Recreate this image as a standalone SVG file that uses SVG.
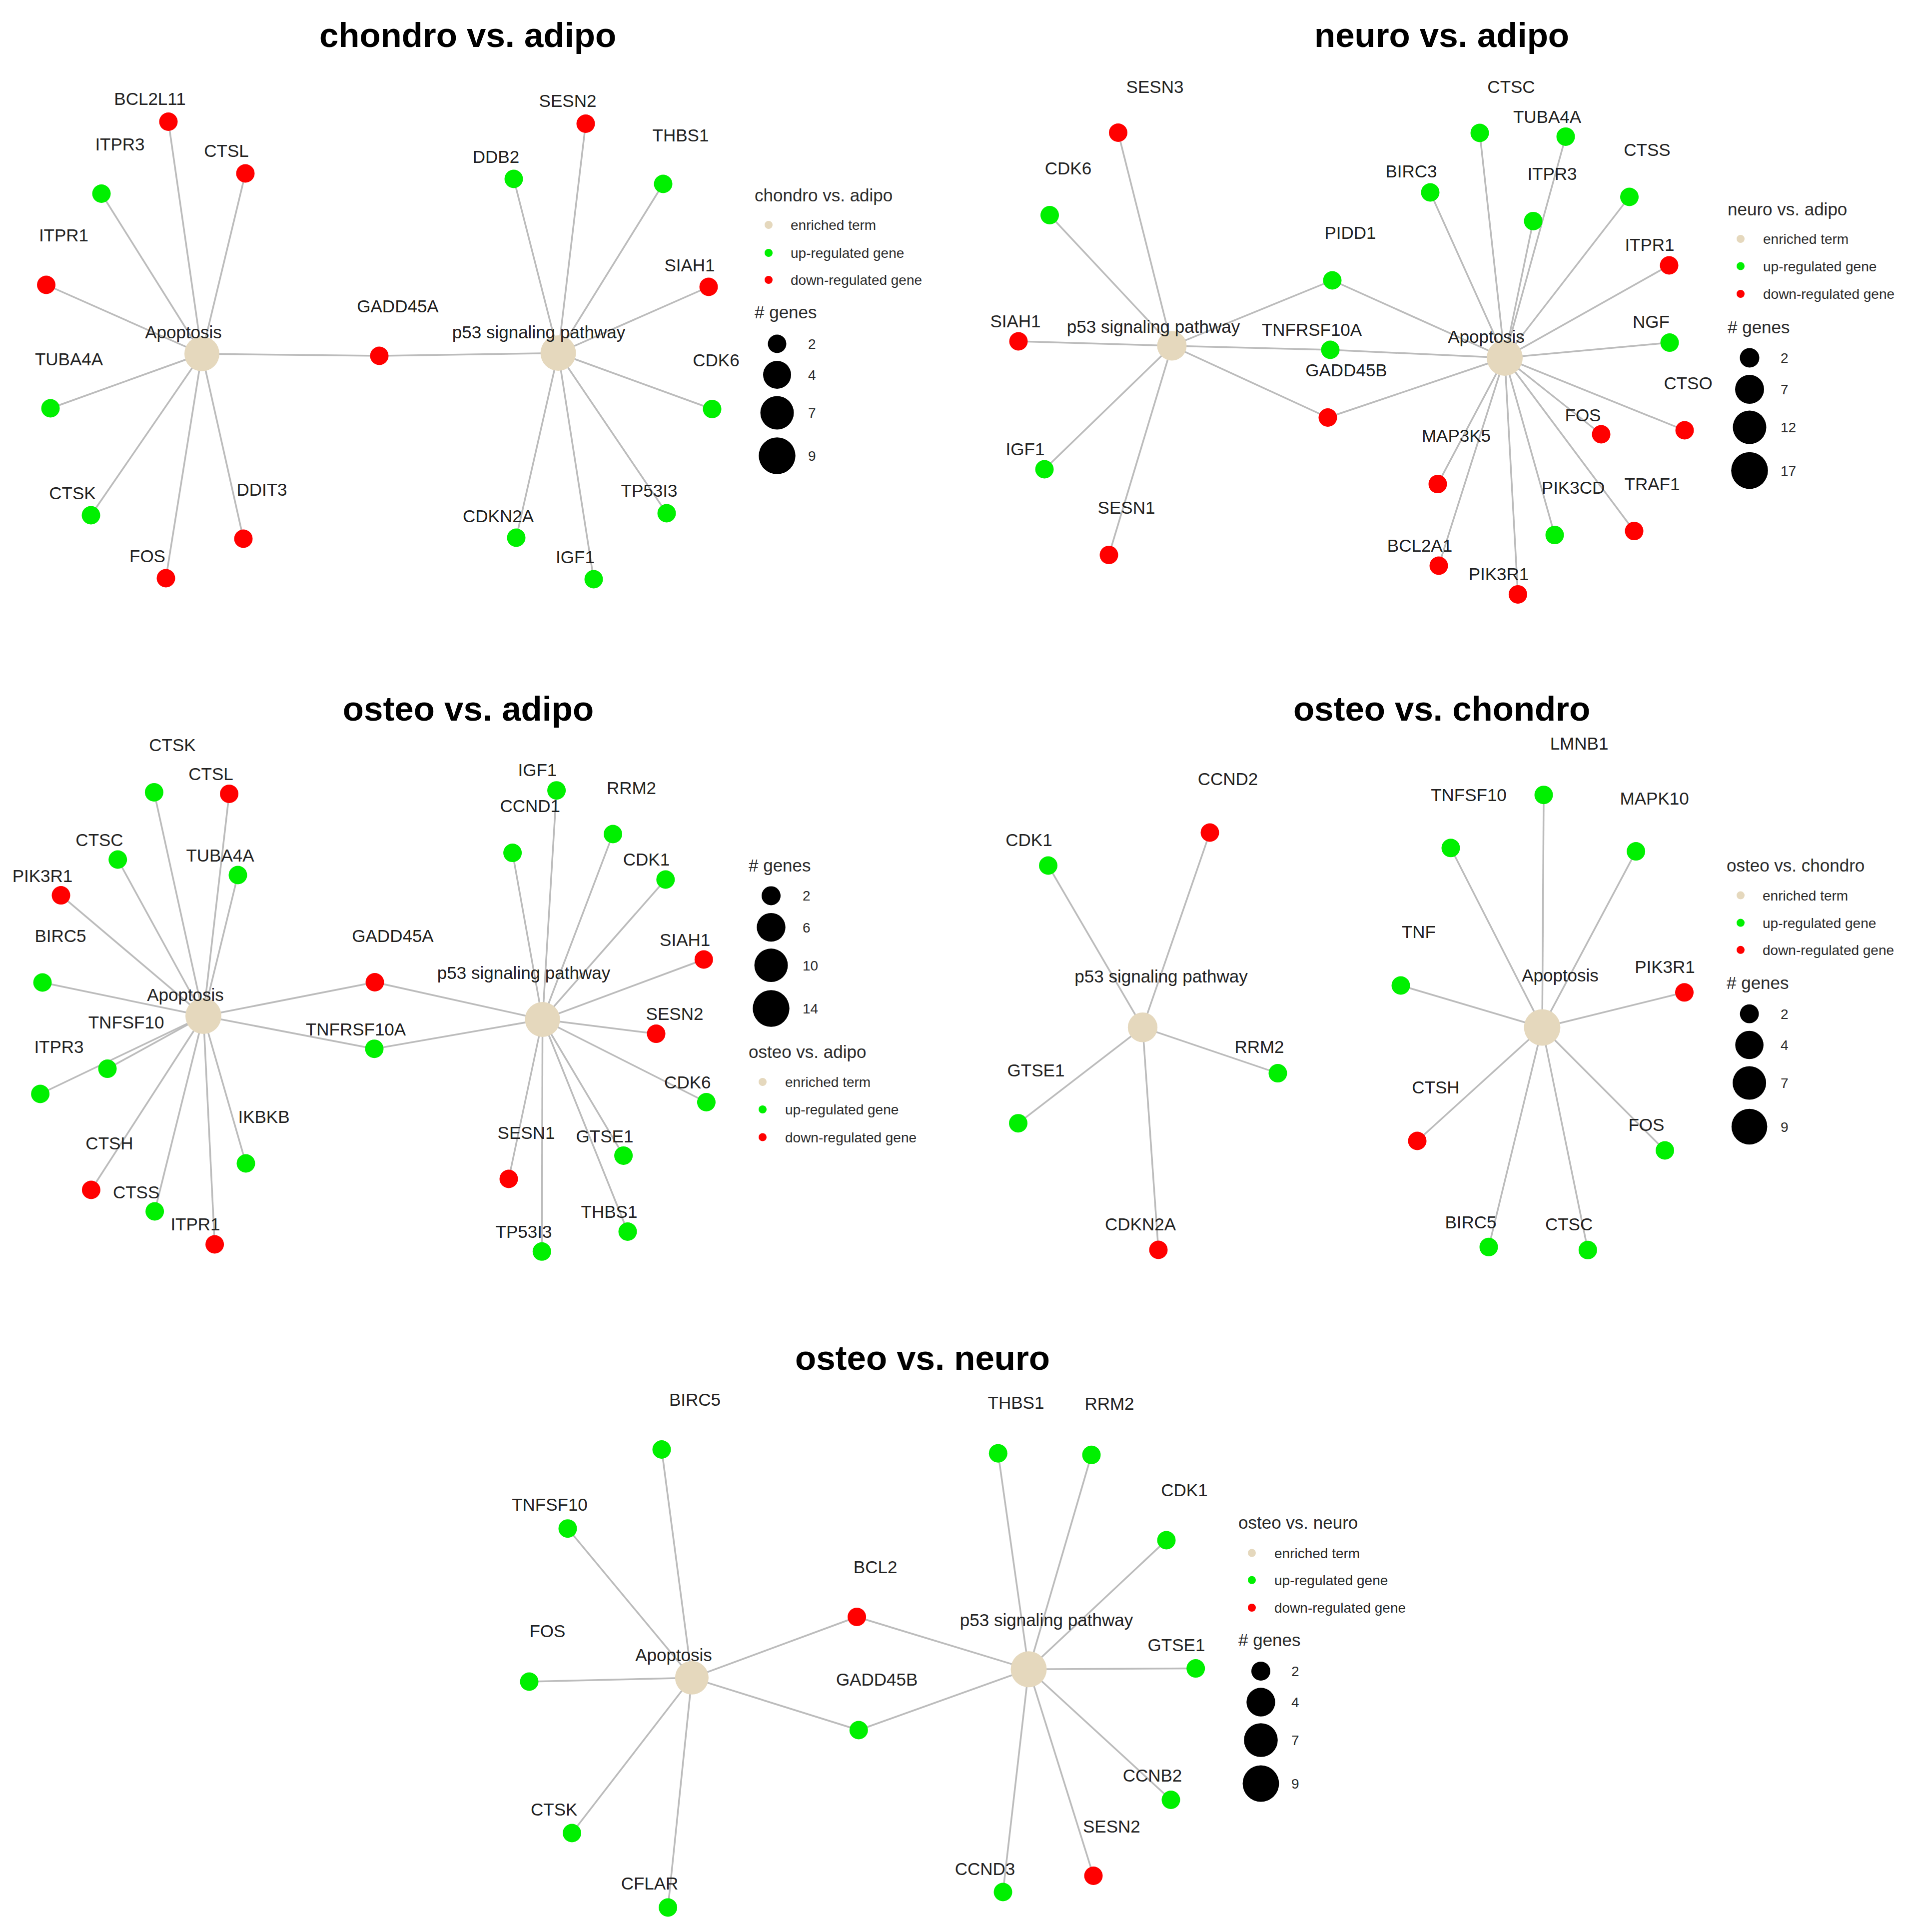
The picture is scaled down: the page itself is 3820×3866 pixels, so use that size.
<svg xmlns="http://www.w3.org/2000/svg" width="3820" height="3866" viewBox="0 0 3820 3866">
<style>
.bg{fill:#fff}
.e{stroke:#bcbcbc;stroke-width:3.5;fill:none}
.up{fill:#00f000}
.dn{fill:#ff0000}
.hub{fill:#e5d8bd}
.sz{fill:#000}
text{font-family:"Liberation Sans",Arial,sans-serif}
.lbl{font-size:35px;fill:#222;text-anchor:middle}
.ttl{font-size:69px;font-weight:bold;fill:#000;text-anchor:middle}
.lgt{font-size:35px;fill:#2a2a2a}
.lgi{font-size:28px;fill:#2a2a2a}
</style>
<rect class="bg" x="0" y="0" width="3820" height="3866"/>

<!-- ================= Panel 1: chondro vs. adipo ================= -->
<g id="panel1">
<text class="ttl" x="936" y="94">chondro vs. adipo</text>
<g id="p1-edges">
<line class="e" x1="404" y1="708" x2="337" y2="243.5"/>
<line class="e" x1="404" y1="708" x2="203" y2="387.5"/>
<line class="e" x1="404" y1="708" x2="491" y2="347"/>
<line class="e" x1="404" y1="708" x2="92.5" y2="570"/>
<line class="e" x1="404" y1="708" x2="101" y2="817"/>
<line class="e" x1="404" y1="708" x2="182" y2="1031"/>
<line class="e" x1="404" y1="708" x2="332" y2="1157"/>
<line class="e" x1="404" y1="708" x2="487" y2="1078"/>
<line class="e" x1="404" y1="708" x2="759" y2="712"/>
<line class="e" x1="1117" y1="706.5" x2="759" y2="712"/>
<line class="e" x1="1117" y1="706.5" x2="1172" y2="247.5"/>
<line class="e" x1="1117" y1="706.5" x2="1028" y2="358"/>
<line class="e" x1="1117" y1="706.5" x2="1327" y2="368"/>
<line class="e" x1="1117" y1="706.5" x2="1418" y2="574"/>
<line class="e" x1="1117" y1="706.5" x2="1425" y2="818.5"/>
<line class="e" x1="1117" y1="706.5" x2="1334" y2="1027"/>
<line class="e" x1="1117" y1="706.5" x2="1033" y2="1076"/>
<line class="e" x1="1117" y1="706.5" x2="1188" y2="1159"/>
</g>
<g id="p1-Apoptosis"><circle class="hub" cx="404" cy="708" r="35"/><text class="lbl" x="367" y="677">Apoptosis</text></g>
<g id="p1-p53"><circle class="hub" cx="1117" cy="706.5" r="35.5"/><text class="lbl" x="1078" y="677">p53 signaling pathway</text></g>
<g id="p1-BCL2L11"><circle class="dn" cx="337" cy="243.5" r="18.5"/><text class="lbl" x="300" y="210">BCL2L11</text></g>
<g id="p1-ITPR3"><circle class="up" cx="203" cy="387.5" r="18.5"/><text class="lbl" x="240" y="301">ITPR3</text></g>
<g id="p1-CTSL"><circle class="dn" cx="491" cy="347" r="18.5"/><text class="lbl" x="453" y="314">CTSL</text></g>
<g id="p1-ITPR1"><circle class="dn" cx="92.5" cy="570" r="18.5"/><text class="lbl" x="127.5" y="483">ITPR1</text></g>
<g id="p1-TUBA4A"><circle class="up" cx="101" cy="817" r="18.5"/><text class="lbl" x="138" y="731">TUBA4A</text></g>
<g id="p1-CTSK"><circle class="up" cx="182" cy="1031" r="18.5"/><text class="lbl" x="145" y="999">CTSK</text></g>
<g id="p1-FOS"><circle class="dn" cx="332" cy="1157" r="18.5"/><text class="lbl" x="295" y="1125">FOS</text></g>
<g id="p1-DDIT3"><circle class="dn" cx="487" cy="1078" r="18.5"/><text class="lbl" x="524" y="992">DDIT3</text></g>
<g id="p1-GADD45A"><circle class="dn" cx="759" cy="712" r="18.5"/><text class="lbl" x="796" y="625">GADD45A</text></g>
<g id="p1-SESN2"><circle class="dn" cx="1172" cy="247.5" r="18.5"/><text class="lbl" x="1136" y="214">SESN2</text></g>
<g id="p1-DDB2"><circle class="up" cx="1028" cy="358" r="18.5"/><text class="lbl" x="992.5" y="326">DDB2</text></g>
<g id="p1-THBS1"><circle class="up" cx="1327" cy="368" r="18.5"/><text class="lbl" x="1362" y="283">THBS1</text></g>
<g id="p1-SIAH1"><circle class="dn" cx="1418" cy="574" r="18.5"/><text class="lbl" x="1380" y="543">SIAH1</text></g>
<g id="p1-CDK6"><circle class="up" cx="1425" cy="818.5" r="18.5"/><text class="lbl" x="1433" y="733">CDK6</text></g>
<g id="p1-TP53I3"><circle class="up" cx="1334" cy="1027" r="18.5"/><text class="lbl" x="1299" y="994">TP53I3</text></g>
<g id="p1-CDKN2A"><circle class="up" cx="1033" cy="1076" r="18.5"/><text class="lbl" x="997" y="1045">CDKN2A</text></g>
<g id="p1-IGF1"><circle class="up" cx="1188" cy="1159" r="18.5"/><text class="lbl" x="1151" y="1127">IGF1</text></g>
<g id="p1-legend">
<text class="lgt" x="1510" y="403">chondro vs. adipo</text>
<circle class="hub" cx="1538" cy="450" r="8"/><text class="lgi" x="1582" y="460">enriched term</text>
<circle class="up" cx="1538" cy="506" r="8"/><text class="lgi" x="1582" y="516">up-regulated gene</text>
<circle class="dn" cx="1538" cy="560" r="8"/><text class="lgi" x="1582" y="570">down-regulated gene</text>
<text class="lgt" x="1510" y="637"># genes</text>
<circle class="sz" cx="1555" cy="688" r="18.5"/><text class="lgi" x="1617" y="698">2</text>
<circle class="sz" cx="1555" cy="750" r="28"/><text class="lgi" x="1617" y="760">4</text>
<circle class="sz" cx="1555" cy="826" r="33.5"/><text class="lgi" x="1617" y="836">7</text>
<circle class="sz" cx="1555" cy="912" r="36.7"/><text class="lgi" x="1617" y="922">9</text>
</g>
</g>

<!-- ================= Panel 2: neuro vs. adipo ================= -->
<g id="panel2">
<text class="ttl" x="2885" y="94">neuro vs. adipo</text>
<g id="p2-edges">
<line class="e" x1="2345" y1="692" x2="2237.5" y2="265.5"/>
<line class="e" x1="2345" y1="692" x2="2100.5" y2="430.5"/>
<line class="e" x1="2345" y1="692" x2="2038" y2="683"/>
<line class="e" x1="2345" y1="692" x2="2090" y2="939"/>
<line class="e" x1="2345" y1="692" x2="2219" y2="1110.5"/>
<line class="e" x1="2345" y1="692" x2="2666" y2="561"/>
<line class="e" x1="2345" y1="692" x2="2662" y2="700"/>
<line class="e" x1="2345" y1="692" x2="2657" y2="835.5"/>
<line class="e" x1="3011" y1="716" x2="2666" y2="561"/>
<line class="e" x1="3011" y1="716" x2="2662" y2="700"/>
<line class="e" x1="3011" y1="716" x2="2657" y2="835.5"/>
<line class="e" x1="3011" y1="716" x2="2862" y2="385"/>
<line class="e" x1="3011" y1="716" x2="2961" y2="266"/>
<line class="e" x1="3011" y1="716" x2="3133" y2="273.4"/>
<line class="e" x1="3011" y1="716" x2="3068" y2="442.4"/>
<line class="e" x1="3011" y1="716" x2="3260.5" y2="394"/>
<line class="e" x1="3011" y1="716" x2="3340" y2="531"/>
<line class="e" x1="3011" y1="716" x2="3341" y2="685.6"/>
<line class="e" x1="3011" y1="716" x2="3371" y2="861"/>
<line class="e" x1="3011" y1="716" x2="3204" y2="869"/>
<line class="e" x1="3011" y1="716" x2="2877" y2="968.6"/>
<line class="e" x1="3011" y1="716" x2="3111" y2="1070.6"/>
<line class="e" x1="3011" y1="716" x2="3270" y2="1062.6"/>
<line class="e" x1="3011" y1="716" x2="2879" y2="1132"/>
<line class="e" x1="3011" y1="716" x2="3037.4" y2="1189.4"/>
</g>
<g id="p2-p53"><circle class="hub" cx="2345" cy="692" r="29.5"/><text class="lbl" x="2308" y="666">p53 signaling pathway</text></g>
<g id="p2-Apoptosis"><circle class="hub" cx="3011" cy="716" r="36"/><text class="lbl" x="2974" y="686">Apoptosis</text></g>
<g id="p2-SESN3"><circle class="dn" cx="2237.5" cy="265.5" r="18.5"/><text class="lbl" x="2311" y="186">SESN3</text></g>
<g id="p2-CDK6"><circle class="up" cx="2100.5" cy="430.5" r="18.5"/><text class="lbl" x="2137.5" y="349">CDK6</text></g>
<g id="p2-SIAH1"><circle class="dn" cx="2038" cy="683" r="18.5"/><text class="lbl" x="2032" y="655">SIAH1</text></g>
<g id="p2-IGF1"><circle class="up" cx="2090" cy="939" r="18.5"/><text class="lbl" x="2051.5" y="911">IGF1</text></g>
<g id="p2-SESN1"><circle class="dn" cx="2219" cy="1110.5" r="18.5"/><text class="lbl" x="2254" y="1028">SESN1</text></g>
<g id="p2-PIDD1"><circle class="up" cx="2666" cy="561" r="18.5"/><text class="lbl" x="2702" y="478">PIDD1</text></g>
<g id="p2-TNFRSF10A"><circle class="up" cx="2662" cy="700" r="18.5"/><text class="lbl" x="2625" y="672">TNFRSF10A</text></g>
<g id="p2-GADD45B"><circle class="dn" cx="2657" cy="835.5" r="18.5"/><text class="lbl" x="2694" y="753">GADD45B</text></g>
<g id="p2-BIRC3"><circle class="up" cx="2862" cy="385" r="18.5"/><text class="lbl" x="2824" y="355">BIRC3</text></g>
<g id="p2-CTSC"><circle class="up" cx="2961" cy="266" r="18.5"/><text class="lbl" x="3024" y="186">CTSC</text></g>
<g id="p2-TUBA4A"><circle class="up" cx="3133" cy="273.4" r="18.5"/><text class="lbl" x="3096" y="246">TUBA4A</text></g>
<g id="p2-ITPR3"><circle class="up" cx="3068" cy="442.4" r="18.5"/><text class="lbl" x="3106" y="360">ITPR3</text></g>
<g id="p2-CTSS"><circle class="up" cx="3260.5" cy="394" r="18.5"/><text class="lbl" x="3296" y="312">CTSS</text></g>
<g id="p2-ITPR1"><circle class="dn" cx="3340" cy="531" r="18.5"/><text class="lbl" x="3301" y="502">ITPR1</text></g>
<g id="p2-NGF"><circle class="up" cx="3341" cy="685.6" r="18.5"/><text class="lbl" x="3304" y="656">NGF</text></g>
<g id="p2-CTSO"><circle class="dn" cx="3371" cy="861" r="18.5"/><text class="lbl" x="3378" y="779">CTSO</text></g>
<g id="p2-FOS"><circle class="dn" cx="3204" cy="869" r="18.5"/><text class="lbl" x="3167.5" y="843">FOS</text></g>
<g id="p2-MAP3K5"><circle class="dn" cx="2877" cy="968.6" r="18.5"/><text class="lbl" x="2914" y="884">MAP3K5</text></g>
<g id="p2-PIK3CD"><circle class="up" cx="3111" cy="1070.6" r="18.5"/><text class="lbl" x="3148" y="988">PIK3CD</text></g>
<g id="p2-TRAF1"><circle class="dn" cx="3270" cy="1062.6" r="18.5"/><text class="lbl" x="3306" y="981">TRAF1</text></g>
<g id="p2-BCL2A1"><circle class="dn" cx="2879" cy="1132" r="18.5"/><text class="lbl" x="2841" y="1104">BCL2A1</text></g>
<g id="p2-PIK3R1"><circle class="dn" cx="3037.4" cy="1189.4" r="18.5"/><text class="lbl" x="2999" y="1161">PIK3R1</text></g>
<g id="p2-legend">
<text class="lgt" x="3457" y="431">neuro vs. adipo</text>
<circle class="hub" cx="3483" cy="478" r="8"/><text class="lgi" x="3528" y="488">enriched term</text>
<circle class="up" cx="3483" cy="532.5" r="8"/><text class="lgi" x="3528" y="542.5">up-regulated gene</text>
<circle class="dn" cx="3483" cy="588" r="8"/><text class="lgi" x="3528" y="598">down-regulated gene</text>
<text class="lgt" x="3457" y="667"># genes</text>
<circle class="sz" cx="3501" cy="716" r="19.5"/><text class="lgi" x="3563" y="726">2</text>
<circle class="sz" cx="3501" cy="779" r="29"/><text class="lgi" x="3563" y="789">7</text>
<circle class="sz" cx="3501" cy="855" r="33.5"/><text class="lgi" x="3563" y="865">12</text>
<circle class="sz" cx="3501" cy="941.5" r="36.8"/><text class="lgi" x="3563" y="951.5">17</text>
</g>
</g>

<!-- ================= Panel 3: osteo vs. adipo ================= -->
<g id="panel3">
<text class="ttl" x="937" y="1442">osteo vs. adipo</text>
<g id="p3-edges">
<line class="e" x1="407" y1="2033" x2="308.4" y2="1585.4"/>
<line class="e" x1="407" y1="2033" x2="458.6" y2="1588.5"/>
<line class="e" x1="407" y1="2033" x2="235.7" y2="1720"/>
<line class="e" x1="407" y1="2033" x2="476" y2="1751"/>
<line class="e" x1="407" y1="2033" x2="122" y2="1791.6"/>
<line class="e" x1="407" y1="2033" x2="85" y2="1966"/>
<line class="e" x1="407" y1="2033" x2="215" y2="2138.6"/>
<line class="e" x1="407" y1="2033" x2="80.6" y2="2189"/>
<line class="e" x1="407" y1="2033" x2="182.4" y2="2381"/>
<line class="e" x1="407" y1="2033" x2="309.6" y2="2424"/>
<line class="e" x1="407" y1="2033" x2="429.6" y2="2490"/>
<line class="e" x1="407" y1="2033" x2="492" y2="2328"/>
<line class="e" x1="407" y1="2033" x2="750" y2="1965.5"/>
<line class="e" x1="407" y1="2033" x2="749" y2="2098.7"/>
<line class="e" x1="1085.6" y1="2040" x2="750" y2="1965.5"/>
<line class="e" x1="1085.6" y1="2040" x2="749" y2="2098.7"/>
<line class="e" x1="1085.6" y1="2040" x2="1113.6" y2="1581.7"/>
<line class="e" x1="1085.6" y1="2040" x2="1025.6" y2="1706.6"/>
<line class="e" x1="1085.6" y1="2040" x2="1226.5" y2="1669"/>
<line class="e" x1="1085.6" y1="2040" x2="1331.8" y2="1760"/>
<line class="e" x1="1085.6" y1="2040" x2="1408.3" y2="1920"/>
<line class="e" x1="1085.6" y1="2040" x2="1313" y2="2068.6"/>
<line class="e" x1="1085.6" y1="2040" x2="1413.4" y2="2205.5"/>
<line class="e" x1="1085.6" y1="2040" x2="1247.6" y2="2312.4"/>
<line class="e" x1="1085.6" y1="2040" x2="1018" y2="2359"/>
<line class="e" x1="1085.6" y1="2040" x2="1256" y2="2464.5"/>
<line class="e" x1="1085.6" y1="2040" x2="1084.3" y2="2504.3"/>
</g>
<g id="p3-Apoptosis"><circle class="hub" cx="407" cy="2033" r="36"/><text class="lbl" x="371" y="2003">Apoptosis</text></g>
<g id="p3-p53"><circle class="hub" cx="1085.6" cy="2040" r="35"/><text class="lbl" x="1048" y="1959">p53 signaling pathway</text></g>
<g id="p3-CTSK"><circle class="up" cx="308.4" cy="1585.4" r="18.5"/><text class="lbl" x="345" y="1503">CTSK</text></g>
<g id="p3-CTSL"><circle class="dn" cx="458.6" cy="1588.5" r="18.5"/><text class="lbl" x="422" y="1561">CTSL</text></g>
<g id="p3-CTSC"><circle class="up" cx="235.7" cy="1720" r="18.5"/><text class="lbl" x="199" y="1693">CTSC</text></g>
<g id="p3-TUBA4A"><circle class="up" cx="476" cy="1751" r="18.5"/><text class="lbl" x="440.5" y="1724">TUBA4A</text></g>
<g id="p3-PIK3R1"><circle class="dn" cx="122" cy="1791.6" r="18.5"/><text class="lbl" x="85" y="1764.5">PIK3R1</text></g>
<g id="p3-BIRC5"><circle class="up" cx="85" cy="1966" r="18.5"/><text class="lbl" x="121" y="1885">BIRC5</text></g>
<g id="p3-TNFSF10"><circle class="up" cx="215" cy="2138.6" r="18.5"/><text class="lbl" x="252.6" y="2058">TNFSF10</text></g>
<g id="p3-ITPR3"><circle class="up" cx="80.6" cy="2189" r="18.5"/><text class="lbl" x="118" y="2107">ITPR3</text></g>
<g id="p3-CTSH"><circle class="dn" cx="182.4" cy="2381" r="18.5"/><text class="lbl" x="219" y="2300">CTSH</text></g>
<g id="p3-CTSS"><circle class="up" cx="309.6" cy="2424" r="18.5"/><text class="lbl" x="272.6" y="2398">CTSS</text></g>
<g id="p3-ITPR1"><circle class="dn" cx="429.6" cy="2490" r="18.5"/><text class="lbl" x="391" y="2462">ITPR1</text></g>
<g id="p3-IKBKB"><circle class="up" cx="492" cy="2328" r="18.5"/><text class="lbl" x="528" y="2247">IKBKB</text></g>
<g id="p3-GADD45A"><circle class="dn" cx="750" cy="1965.5" r="18.5"/><text class="lbl" x="786" y="1885">GADD45A</text></g>
<g id="p3-TNFRSF10A"><circle class="up" cx="749" cy="2098.7" r="18.5"/><text class="lbl" x="712" y="2072">TNFRSF10A</text></g>
<g id="p3-IGF1"><circle class="up" cx="1113.6" cy="1581.7" r="18.5"/><text class="lbl" x="1075.4" y="1553">IGF1</text></g>
<g id="p3-CCND1"><circle class="up" cx="1025.6" cy="1706.6" r="18.5"/><text class="lbl" x="1060.7" y="1625">CCND1</text></g>
<g id="p3-RRM2"><circle class="up" cx="1226.5" cy="1669" r="18.5"/><text class="lbl" x="1263.5" y="1589">RRM2</text></g>
<g id="p3-CDK1"><circle class="up" cx="1331.8" cy="1760" r="18.5"/><text class="lbl" x="1293.5" y="1732">CDK1</text></g>
<g id="p3-SIAH1"><circle class="dn" cx="1408.3" cy="1920" r="18.5"/><text class="lbl" x="1370.7" y="1892.5">SIAH1</text></g>
<g id="p3-SESN2"><circle class="dn" cx="1313" cy="2068.6" r="18.5"/><text class="lbl" x="1350" y="2041">SESN2</text></g>
<g id="p3-CDK6"><circle class="up" cx="1413.4" cy="2205.5" r="18.5"/><text class="lbl" x="1375.8" y="2178">CDK6</text></g>
<g id="p3-GTSE1"><circle class="up" cx="1247.6" cy="2312.4" r="18.5"/><text class="lbl" x="1210" y="2286">GTSE1</text></g>
<g id="p3-SESN1"><circle class="dn" cx="1018" cy="2359" r="18.5"/><text class="lbl" x="1053" y="2278.5">SESN1</text></g>
<g id="p3-THBS1"><circle class="up" cx="1256" cy="2464.5" r="18.5"/><text class="lbl" x="1219" y="2436.5">THBS1</text></g>
<g id="p3-TP53I3"><circle class="up" cx="1084.3" cy="2504.3" r="18.5"/><text class="lbl" x="1048" y="2477">TP53I3</text></g>
<g id="p3-legend">
<text class="lgt" x="1498" y="1744"># genes</text>
<circle class="sz" cx="1543" cy="1792.4" r="19"/><text class="lgi" x="1606" y="1802">2</text>
<circle class="sz" cx="1543" cy="1855.6" r="28.7"/><text class="lgi" x="1606" y="1866">6</text>
<circle class="sz" cx="1543" cy="1931.6" r="33.5"/><text class="lgi" x="1606" y="1942">10</text>
<circle class="sz" cx="1543" cy="2018" r="36.7"/><text class="lgi" x="1606" y="2028">14</text>
<text class="lgt" x="1498" y="2117">osteo vs. adipo</text>
<circle class="hub" cx="1526" cy="2165" r="8"/><text class="lgi" x="1571" y="2175">enriched term</text>
<circle class="up" cx="1526" cy="2220" r="8"/><text class="lgi" x="1571" y="2230">up-regulated gene</text>
<circle class="dn" cx="1526" cy="2275.5" r="8"/><text class="lgi" x="1571" y="2285.5">down-regulated gene</text>
</g>
</g>

<!-- ================= Panel 4: osteo vs. chondro ================= -->
<g id="panel4">
<text class="ttl" x="2885" y="1442">osteo vs. chondro</text>
<g id="p4-edges">
<line class="e" x1="2286.5" y1="2055.8" x2="2421" y2="1666"/>
<line class="e" x1="2286.5" y1="2055.8" x2="2097.5" y2="1732"/>
<line class="e" x1="2286.5" y1="2055.8" x2="2557" y2="2147.6"/>
<line class="e" x1="2286.5" y1="2055.8" x2="2037.5" y2="2247.7"/>
<line class="e" x1="2286.5" y1="2055.8" x2="2318" y2="2501"/>
<line class="e" x1="3086" y1="2056" x2="3089" y2="1590.7"/>
<line class="e" x1="3086" y1="2056" x2="2903" y2="1696.8"/>
<line class="e" x1="3086" y1="2056" x2="3273.6" y2="1703.6"/>
<line class="e" x1="3086" y1="2056" x2="2803" y2="1972"/>
<line class="e" x1="3086" y1="2056" x2="3370.5" y2="1985.8"/>
<line class="e" x1="3086" y1="2056" x2="2836" y2="2283"/>
<line class="e" x1="3086" y1="2056" x2="3331.5" y2="2302"/>
<line class="e" x1="3086" y1="2056" x2="2979" y2="2495.3"/>
<line class="e" x1="3086" y1="2056" x2="3177.3" y2="2501.3"/>
</g>
<g id="p4-p53"><circle class="hub" cx="2286.5" cy="2055.8" r="29.7"/><text class="lbl" x="2323.5" y="1966">p53 signaling pathway</text></g>
<g id="p4-Apoptosis"><circle class="hub" cx="3086" cy="2056" r="36.4"/><text class="lbl" x="3122" y="1964">Apoptosis</text></g>
<g id="p4-CCND2"><circle class="dn" cx="2421" cy="1666" r="18.5"/><text class="lbl" x="2457" y="1571">CCND2</text></g>
<g id="p4-CDK1"><circle class="up" cx="2097.5" cy="1732" r="18.5"/><text class="lbl" x="2059" y="1693">CDK1</text></g>
<g id="p4-RRM2"><circle class="up" cx="2557" cy="2147.6" r="18.5"/><text class="lbl" x="2520" y="2107">RRM2</text></g>
<g id="p4-GTSE1"><circle class="up" cx="2037.5" cy="2247.7" r="18.5"/><text class="lbl" x="2073" y="2154">GTSE1</text></g>
<g id="p4-CDKN2A"><circle class="dn" cx="2318" cy="2501" r="18.5"/><text class="lbl" x="2282" y="2462">CDKN2A</text></g>
<g id="p4-LMNB1"><circle class="up" cx="3089" cy="1590.7" r="18.5"/><text class="lbl" x="3160" y="1500">LMNB1</text></g>
<g id="p4-TNFSF10"><circle class="up" cx="2903" cy="1696.8" r="18.5"/><text class="lbl" x="2939" y="1603">TNFSF10</text></g>
<g id="p4-MAPK10"><circle class="up" cx="3273.6" cy="1703.6" r="18.5"/><text class="lbl" x="3310.6" y="1610">MAPK10</text></g>
<g id="p4-TNF"><circle class="up" cx="2803" cy="1972" r="18.5"/><text class="lbl" x="2839" y="1877">TNF</text></g>
<g id="p4-PIK3R1"><circle class="dn" cx="3370.5" cy="1985.8" r="18.5"/><text class="lbl" x="3331.5" y="1947">PIK3R1</text></g>
<g id="p4-CTSH"><circle class="dn" cx="2836" cy="2283" r="18.5"/><text class="lbl" x="2873" y="2187.5">CTSH</text></g>
<g id="p4-FOS"><circle class="up" cx="3331.5" cy="2302" r="18.5"/><text class="lbl" x="3294.4" y="2263">FOS</text></g>
<g id="p4-BIRC5"><circle class="up" cx="2979" cy="2495.3" r="18.5"/><text class="lbl" x="2943" y="2457.6">BIRC5</text></g>
<g id="p4-CTSC"><circle class="up" cx="3177.3" cy="2501.3" r="18.5"/><text class="lbl" x="3139.6" y="2462">CTSC</text></g>
<g id="p4-legend">
<text class="lgt" x="3455" y="1744">osteo vs. chondro</text>
<circle class="hub" cx="3483" cy="1791.6" r="8"/><text class="lgi" x="3527" y="1801.6">enriched term</text>
<circle class="up" cx="3483" cy="1846.6" r="8"/><text class="lgi" x="3527" y="1856.6">up-regulated gene</text>
<circle class="dn" cx="3483" cy="1900.8" r="8"/><text class="lgi" x="3527" y="1910.8">down-regulated gene</text>
<text class="lgt" x="3455" y="1979"># genes</text>
<circle class="sz" cx="3500.6" cy="2028.7" r="18.9"/><text class="lgi" x="3563" y="2038.7">2</text>
<circle class="sz" cx="3500.6" cy="2091" r="28.3"/><text class="lgi" x="3563" y="2101">4</text>
<circle class="sz" cx="3500.6" cy="2167" r="33.5"/><text class="lgi" x="3563" y="2177">7</text>
<circle class="sz" cx="3500.6" cy="2254.5" r="35.8"/><text class="lgi" x="3563" y="2264.5">9</text>
</g>
</g>

<!-- ================= Panel 5: osteo vs. neuro ================= -->
<g id="panel5">
<text class="ttl" x="1846" y="2741">osteo vs. neuro</text>
<g id="p5-edges">
<line class="e" x1="1384.4" y1="3357.3" x2="1324" y2="2900.5"/>
<line class="e" x1="1384.4" y1="3357.3" x2="1136" y2="3058.7"/>
<line class="e" x1="1384.4" y1="3357.3" x2="1059" y2="3365"/>
<line class="e" x1="1384.4" y1="3357.3" x2="1144.5" y2="3668"/>
<line class="e" x1="1384.4" y1="3357.3" x2="1336.6" y2="3817"/>
<line class="e" x1="1384.4" y1="3357.3" x2="1714.6" y2="3235.5"/>
<line class="e" x1="1384.4" y1="3357.3" x2="1718.3" y2="3462"/>
<line class="e" x1="2058.5" y1="3340.2" x2="1714.6" y2="3235.5"/>
<line class="e" x1="2058.5" y1="3340.2" x2="1718.3" y2="3462"/>
<line class="e" x1="2058.5" y1="3340.2" x2="1997.3" y2="2908.2"/>
<line class="e" x1="2058.5" y1="3340.2" x2="2184" y2="2911.3"/>
<line class="e" x1="2058.5" y1="3340.2" x2="2334" y2="3082"/>
<line class="e" x1="2058.5" y1="3340.2" x2="2392.7" y2="3338.6"/>
<line class="e" x1="2058.5" y1="3340.2" x2="2343" y2="3601.5"/>
<line class="e" x1="2058.5" y1="3340.2" x2="2188" y2="3753.5"/>
<line class="e" x1="2058.5" y1="3340.2" x2="2007" y2="3786"/>
</g>
<g id="p5-Apoptosis"><circle class="hub" cx="1384.4" cy="3357.3" r="33.5"/><text class="lbl" x="1348" y="3324">Apoptosis</text></g>
<g id="p5-p53"><circle class="hub" cx="2058.5" cy="3340.2" r="36"/><text class="lbl" x="2094" y="3254">p53 signaling pathway</text></g>
<g id="p5-BIRC5"><circle class="up" cx="1324" cy="2900.5" r="18.5"/><text class="lbl" x="1390.5" y="2813">BIRC5</text></g>
<g id="p5-TNFSF10"><circle class="up" cx="1136" cy="3058.7" r="18.5"/><text class="lbl" x="1100" y="3022.6">TNFSF10</text></g>
<g id="p5-FOS"><circle class="up" cx="1059" cy="3365" r="18.5"/><text class="lbl" x="1095.4" y="3276">FOS</text></g>
<g id="p5-CTSK"><circle class="up" cx="1144.5" cy="3668" r="18.5"/><text class="lbl" x="1108.7" y="3633">CTSK</text></g>
<g id="p5-CFLAR"><circle class="up" cx="1336.6" cy="3817" r="18.5"/><text class="lbl" x="1300" y="3781">CFLAR</text></g>
<g id="p5-BCL2"><circle class="dn" cx="1714.6" cy="3235.5" r="18.5"/><text class="lbl" x="1751.6" y="3148">BCL2</text></g>
<g id="p5-GADD45B"><circle class="up" cx="1718.3" cy="3462" r="18.5"/><text class="lbl" x="1754.6" y="3373">GADD45B</text></g>
<g id="p5-THBS1"><circle class="up" cx="1997.3" cy="2908.2" r="18.5"/><text class="lbl" x="2033" y="2819.4">THBS1</text></g>
<g id="p5-RRM2"><circle class="up" cx="2184" cy="2911.3" r="18.5"/><text class="lbl" x="2220" y="2821">RRM2</text></g>
<g id="p5-CDK1"><circle class="up" cx="2334" cy="3082" r="18.5"/><text class="lbl" x="2370" y="2994">CDK1</text></g>
<g id="p5-GTSE1"><circle class="up" cx="2392.7" cy="3338.6" r="18.5"/><text class="lbl" x="2354" y="3304">GTSE1</text></g>
<g id="p5-CCNB2"><circle class="up" cx="2343" cy="3601.5" r="18.5"/><text class="lbl" x="2306" y="3565.4">CCNB2</text></g>
<g id="p5-SESN2"><circle class="dn" cx="2188" cy="3753.5" r="18.5"/><text class="lbl" x="2224.4" y="3667">SESN2</text></g>
<g id="p5-CCND3"><circle class="up" cx="2007" cy="3786" r="18.5"/><text class="lbl" x="1971" y="3752">CCND3</text></g>
<g id="p5-legend">
<text class="lgt" x="2478" y="3059">osteo vs. neuro</text>
<circle class="hub" cx="2505" cy="3107.5" r="8"/><text class="lgi" x="2550" y="3117.5">enriched term</text>
<circle class="up" cx="2505" cy="3161.8" r="8"/><text class="lgi" x="2550" y="3171.8">up-regulated gene</text>
<circle class="dn" cx="2505" cy="3217" r="8"/><text class="lgi" x="2550" y="3227">down-regulated gene</text>
<text class="lgt" x="2478" y="3294"># genes</text>
<circle class="sz" cx="2523" cy="3344" r="19"/><text class="lgi" x="2584" y="3354">2</text>
<circle class="sz" cx="2523" cy="3406" r="28.7"/><text class="lgi" x="2584" y="3416">4</text>
<circle class="sz" cx="2523" cy="3482" r="33.8"/><text class="lgi" x="2584" y="3492">7</text>
<circle class="sz" cx="2523" cy="3569" r="36.4"/><text class="lgi" x="2584" y="3579">9</text>
</g>
</g>
</svg>
